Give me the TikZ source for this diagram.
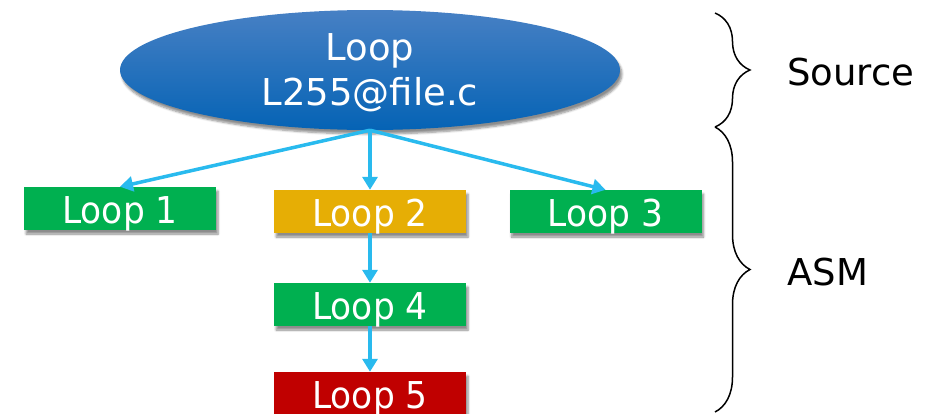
\documentclass[tikz,border=0pt]{standalone}
\usepackage{fontspec}
\setmainfont{DejaVu Sans}
\newfontfamily\loopfont[FakeStretch=0.93]{DejaVu Sans}
\usetikzlibrary{shapes.geometric,arrows.meta,shadows.blur,decorations.pathreplacing}
\definecolor{boxgreen}{HTML}{00B050}
\definecolor{boxorange}{HTML}{E6AE05}
\definecolor{boxred}{HTML}{C00000}
\definecolor{arrowblue}{HTML}{29BAEE}
\definecolor{elltop}{HTML}{4780C4}
\definecolor{ellbot}{HTML}{0563B5}
\begin{document}
\begin{tikzpicture}[x=1pt,y=-1pt,
  loopbox/.style={rectangle, minimum width=192pt, minimum height=43pt, inner sep=0pt,
    text height=29pt, text depth=0pt,
    text=white, font=\loopfont\fontsize{37}{40}\selectfont,
    blur shadow={shadow xshift=2pt, shadow yshift=-4pt, shadow blur steps=6, shadow opacity=45}},
  conn/.style={draw=arrowblue, line width=3.5pt, -{Triangle[width=15pt,length=13pt]}},
  brc/.style={draw=black, line width=1.5pt, decorate, decoration={brace, amplitude=35pt}},
  side/.style={anchor=west, font=\fontsize{37}{42}\selectfont, inner sep=0pt}]
\useasboundingbox (0,0) rectangle (939,413);
\node[ellipse, minimum width=500pt, minimum height=120pt, inner sep=0pt,
  top color=elltop, bottom color=ellbot,
  blur shadow={shadow xshift=2pt, shadow yshift=-4pt, shadow blur steps=6, shadow opacity=45}]
  (src) at (370,70) {};
\node[text=white, align=center, font=\fontsize{37}{45}\selectfont] (srctext) at (370,73) {Loop\\L255@file.c};
\node[loopbox, fill=boxgreen] (l1) at (120,208.5) {Loop 1};
\node[loopbox, fill=boxorange] (l2) at (370,211.5) {Loop 2};
\node[loopbox, fill=boxgreen] (l3) at (605.5,211.5) {Loop 3};
\node[loopbox, fill=boxgreen] (l4) at (370,304.5) {Loop 4};
\node[loopbox, fill=boxred] (l5) at (370,393.5) {Loop 5};
\draw[conn] (src.south) -- (l1.north);
\draw[conn] (src.south) -- (l2.north);
\draw[conn] (src.south) -- (l3.north);
\draw[conn] (l2.south) -- (l4.north);
\draw[conn] (l4.south) -- (l5.north);
\coordinate (b1a) at (715,13);
\coordinate (b1b) at (715,127);
\coordinate (b2a) at (715,127);
\coordinate (b2b) at (715,412);
\draw[brc] (b1a) -- (b1b);
\draw[brc] (b2a) -- (b2b);
\node[side] (source) at (787,72) {Source};
\node[side] (asm) at (787,272) {ASM};
\end{tikzpicture}
\end{document}
